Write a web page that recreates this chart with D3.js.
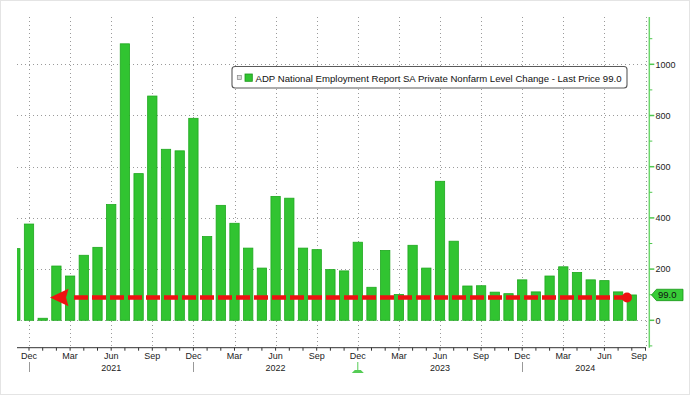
<!DOCTYPE html>
<html><head><meta charset="utf-8">
<script src="https://cdn.jsdelivr.net/npm/d3@7"></script>
<style>html,body{margin:0;padding:0;background:#fff;}svg{display:block;font-family:"Liberation Sans",Arial,sans-serif;}</style>
</head><body>
<svg id="c" width="690" height="395"></svg>
<script>
// ---- data ----
const months = ["2020-11","2020-12","2021-01","2021-02","2021-03","2021-04","2021-05","2021-06","2021-07","2021-08","2021-09","2021-10","2021-11","2021-12",
"2022-01","2022-02","2022-03","2022-04","2022-05","2022-06","2022-07","2022-08","2022-09","2022-10","2022-11","2022-12",
"2023-01","2023-02","2023-03","2023-04","2023-05","2023-06","2023-07","2023-08","2023-09","2023-10","2023-11","2023-12",
"2024-01","2024-02","2024-03","2024-04","2024-05","2024-06","2024-07","2024-08"];
const values = [280,376,8,212,173,254,285,452,1080,573,876,668,662,789,
327,449,379,282,204,484,477,282,276,198,193,305,
129,273,101,293,204,543,309,134,135,110,104,158,
111,173,209,187,158,155,111,99];
const monthTickLabels = ["Dec","Mar","Jun","Sep"];
const yearLabels = ["2021","2022","2023","2024"];
const yearLabelMonthIdx = [7,19,31,41.6];
const yTicks = [0,200,400,600,800,1000];
const lastPrice = 99.0;
const redLevel = 89;
const legendText = "ADP National Employment Report SA Private Nonfarm Level Change - Last Price 99.0";

// ---- layout ----
const svg = d3.select("#c");
const plotL = 17, plotR = 646, plotT = 17, plotB = 347.7;
const x = d3.scaleLinear().domain([0, 46]).range([15.3, 645.5]);
const y = d3.scaleLinear().domain([0, 1000]).range([320.3, 64.3]);
const step = x(1) - x(0);
const bw = step * 0.68;

svg.append("rect").attr("x",0.5).attr("y",0.5).attr("width",689).attr("height",394)
  .attr("fill","#fff").attr("stroke","#e4e4e4");

svg.append("defs").append("clipPath").attr("id","plotclip").append("rect")
  .attr("x",plotL).attr("y",plotT).attr("width",plotR-plotL).attr("height",plotB-plotT);

// gridlines
const grid = svg.append("g").attr("stroke","#9a9a9a").attr("stroke-width",1).attr("stroke-dasharray","1,3");
yTicks.forEach(v => grid.append("line").attr("x1",plotL).attr("x2",plotR)
  .attr("y1",Math.round(y(v))+0.5).attr("y2",Math.round(y(v))+0.5));
const labelIdx = d3.range(1, 47, 3);
labelIdx.forEach(i => grid.append("line").attr("x1",Math.round(x(i))+0.5).attr("x2",Math.round(x(i))+0.5)
  .attr("y1",plotT).attr("y2",plotB));

// bars
svg.append("g").attr("clip-path","url(#plotclip)").selectAll("rect").data(values).join("rect")
  .attr("x",(d,i)=>x(i)-bw/2).attr("width",bw)
  .attr("y",d=>y(d)).attr("height",d=>y(0)-y(d))
  .attr("fill","#31c431").attr("stroke","#1ea81e").attr("stroke-width",0.8);

// x axis
const xa = svg.append("g");
xa.append("line").attr("x1",plotL).attr("x2",plotR).attr("y1",plotB).attr("y2",plotB)
  .attr("stroke","#333").attr("stroke-width",1);
d3.range(0,47).forEach(i => { if (x(i) >= plotL) xa.append("line").attr("x1",x(i)).attr("x2",x(i))
  .attr("y1",plotB).attr("y2",plotB+3).attr("stroke","#333"); });
labelIdx.forEach((i,k) => {
  const last = i === 46;
  xa.append("text").attr("x", last ? x(i)+1.5 : x(i)).attr("y",359)
    .attr("text-anchor", last ? "end" : "middle").attr("font-size",9).attr("fill","#222")
    .text(monthTickLabels[k % 4]);
});
yearLabels.forEach((t,k) => xa.append("text").attr("x",x(yearLabelMonthIdx[k])).attr("y",370.5)
  .attr("text-anchor","middle").attr("font-size",9).attr("fill","#222").text(t));
// year separators under December ticks
[1,13,37].forEach(i => xa.append("line").attr("x1",Math.round(x(i))+0.5).attr("x2",Math.round(x(i))+0.5)
  .attr("y1",362).attr("y2",372).attr("stroke","#999"));
// green marker at Dec 2022
const gm = x(25);
xa.append("line").attr("x1",gm).attr("x2",gm).attr("y1",362).attr("y2",371).attr("stroke","#55cc55");
xa.append("path").attr("d",`M${gm-6},373 L${gm-3},370 L${gm+3},370 L${gm+6},373 Z`).attr("fill","#55cc55");

// y axis (right)
const ya = svg.append("g");
const axX = 649.3;
const gy = d3.scaleLinear().domain([y.invert(plotB), y.invert(plotT)]).range([plotB, plotT]);
ya.append("line").attr("x1",axX).attr("x2",axX).attr("y1",plotT).attr("y2",plotB)
  .attr("stroke","#6ad66a").attr("stroke-width",1.5);
d3.range(-100, 1200, 100).forEach(v => {
  const major = v % 200 === 0;
  ya.append("line").attr("x1",axX).attr("x2",axX + (major?5:3)).attr("y1",y(v)).attr("y2",y(v))
    .attr("stroke","#4fc84f").attr("stroke-width",major?1.5:1);
});
yTicks.forEach(v => ya.append("text").attr("x",655.5).attr("y",y(v)+3.2)
  .attr("font-size",9).attr("fill","#222").text(v));

// last price tag
const ty = y(lastPrice);
ya.append("path").attr("d",`M651.5,${ty} L656.5,${ty-5.7} L683,${ty-5.7} L683,${ty+5.7} L656.5,${ty+5.7} Z`)
  .attr("fill","#38cc38").attr("stroke","#169616").attr("stroke-width",0.8);
ya.append("text").attr("x",658).attr("y",ty+3.3).attr("font-size",9.5).attr("fill","#111").text(lastPrice.toFixed(1));

// red annotation
const ry = y(redLevel);
svg.append("line").attr("x1",74).attr("x2",623).attr("y1",ry).attr("y2",ry)
  .attr("stroke","#ee1111").attr("stroke-width",4.5).attr("stroke-dasharray","14,4");
svg.append("path").attr("d",`M50,${ry} L68.5,${ry-8.7} L66,${ry} L68.5,${ry+8.7} Z`).attr("fill","#ee1111");
svg.append("circle").attr("cx",627).attr("cy",ry).attr("r",5).attr("fill","#ee1111");

// legend
const lg = svg.append("g");
lg.append("rect").attr("x",232).attr("y",66.5).attr("width",395).attr("height",21.5).attr("rx",3)
  .attr("fill","#fff").attr("stroke","#5a5a5a").attr("stroke-width",1.1);
lg.append("rect").attr("x",237.3).attr("y",75.5).attr("width",4).attr("height",4)
  .attr("fill","#ddd").attr("stroke","#888").attr("stroke-width",0.7);
lg.append("rect").attr("x",245).attr("y",74).attr("width",7.3).attr("height",7.3)
  .attr("fill","#31c431").attr("stroke","#1a961a").attr("stroke-width",0.8);
lg.append("text").attr("x",255.5).attr("y",81.5).attr("font-size",9.5).attr("fill","#111")
  .attr("textLength",366).attr("lengthAdjust","spacingAndGlyphs").text(legendText);
</script>
</body></html>
